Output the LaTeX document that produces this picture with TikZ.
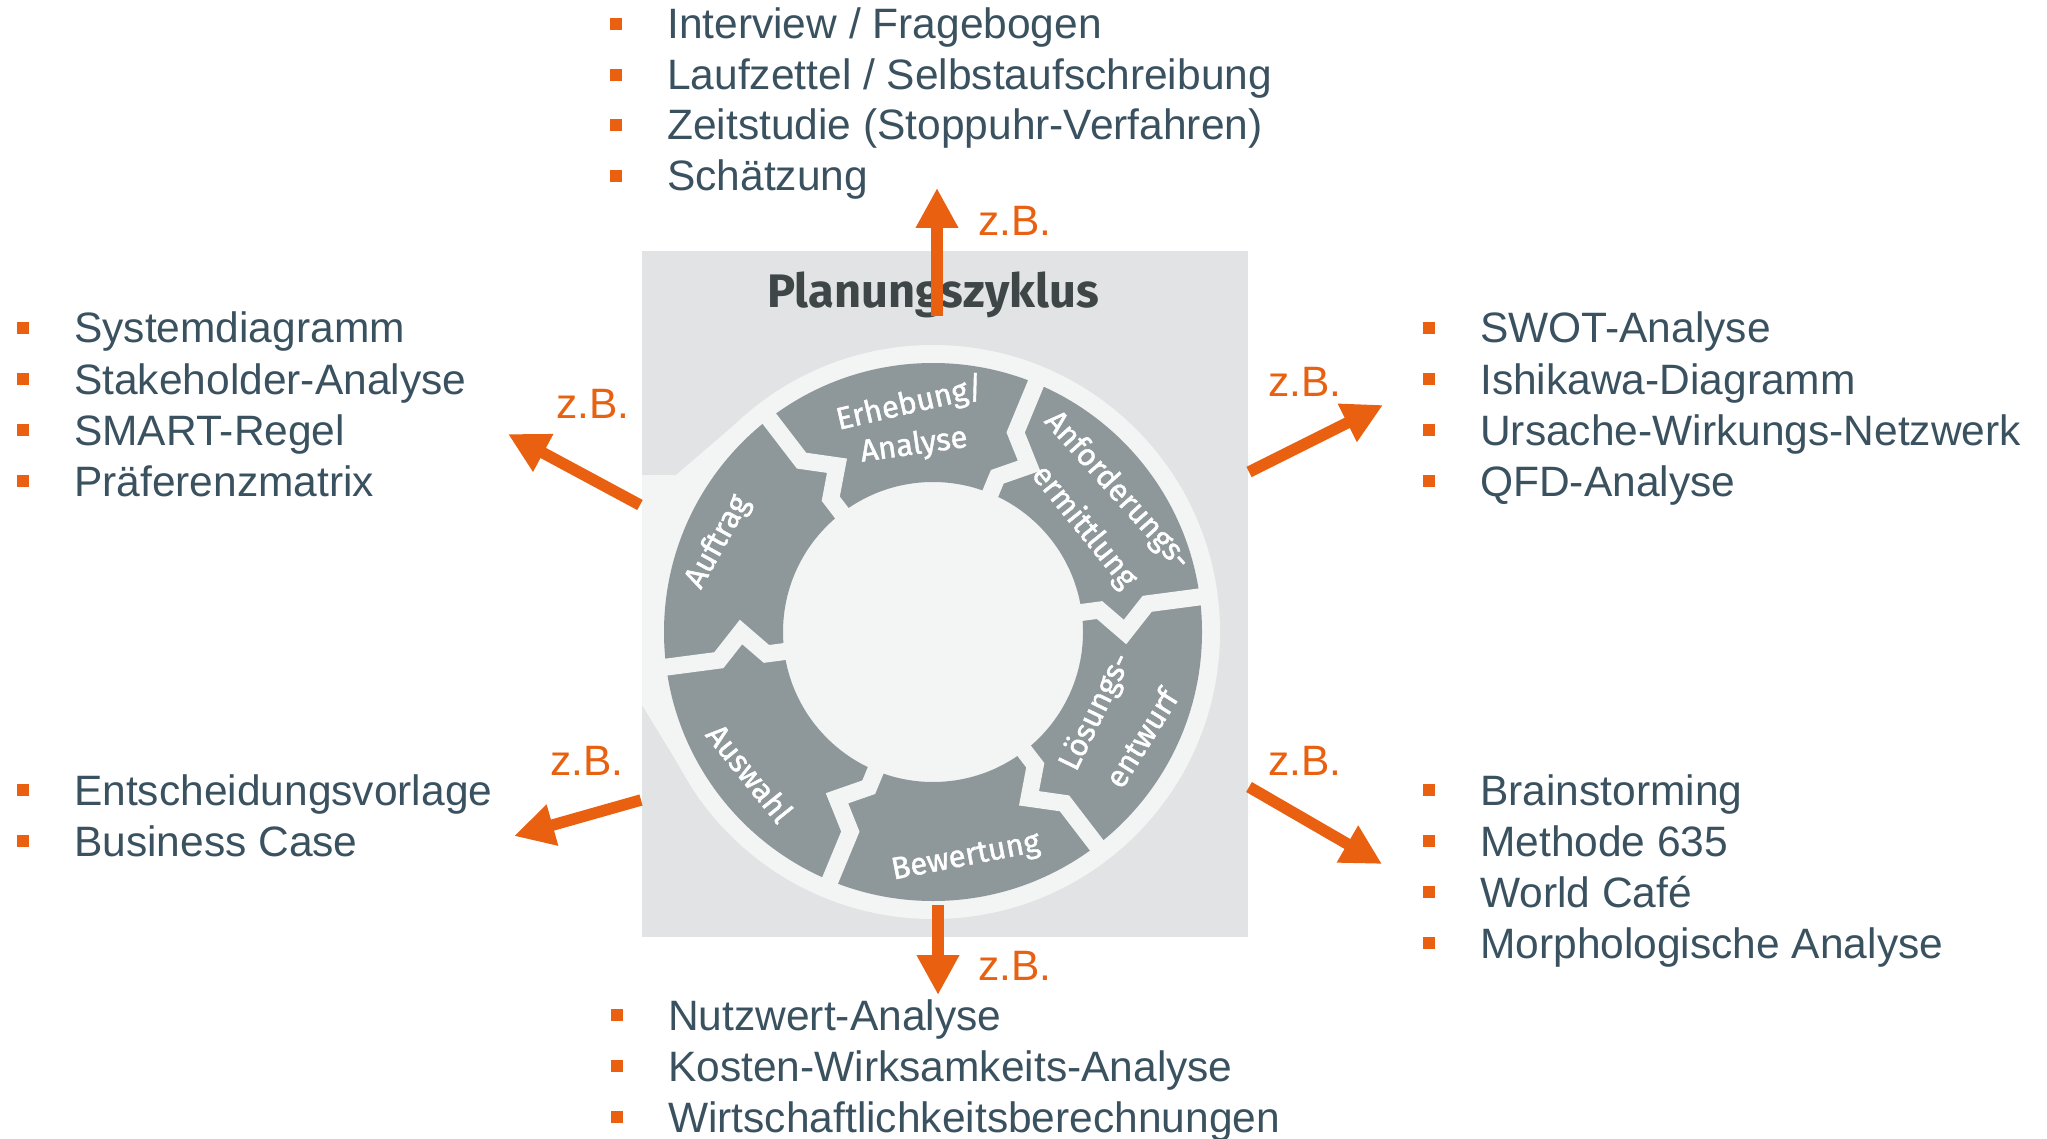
\documentclass[tikz,border=0pt]{standalone}
\usepackage{fontspec}
\setmainfont{Liberation Sans}
\newfontfamily\labfont{Fira Sans}
\newfontfamily\labfontb[FakeBold=1.4]{Fira Sans}
\usetikzlibrary{arrows.meta}
\definecolor{boxgray}{RGB}{225,227,228}
\definecolor{ringlight}{RGB}{243,244,244}
\definecolor{seggray}{RGB}{142,151,153}
\definecolor{titlegray}{RGB}{62,70,72}
\definecolor{txt}{RGB}{58,81,95}
\definecolor{orng}{RGB}{232,96,16}
\tikzset{
  item/.style={anchor=base west, font=\fontsize{42.5}{51}\selectfont, text=txt, inner sep=0pt},
  zb/.style={anchor=base west, font=\fontsize{42.5}{51}\selectfont, text=orng, inner sep=0pt},
  seglab/.style={font=\labfontb\fontsize{31}{34}\selectfont, text=white, inner sep=0pt},
  orarrow/.style={draw=orng, line width=11.5pt, -{Triangle[length=40pt,width=40pt]}},
  gapline/.style={draw=ringlight, line width=17pt, line join=miter}
}
\newcommand\bitem[4]{%
  \fill[orng] ({#1-57},{#2-21}) rectangle ++(12,12);
  \node[item] (#4) at (#1,#2) {#3};}
\begin{document}
\begin{tikzpicture}[x=1pt,y=-1pt]
\useasboundingbox (0,0) rectangle (2047,1139);
\clip (0,0) rectangle (2047,1139);
% box
\fill[boxgray] (642,251) rectangle (1248,937);
% light ring with tail
\fill[ringlight] (933,632) circle (287);
\fill[ringlight] (642,475) -- (676,475) -- (740,420) -- (700,800) -- (642,705) -- cycle;
% segments
\fill[seggray, even odd rule] (933,632) circle (269) (933,632) circle (150);
\foreach \t in {7.5,67.5,127.5,187.5,247.5,307.5}{
  \draw[gapline, shift={(933,632)}] (-\t:135) -- (-\t:168) -- ({-\t+7.5}:192) -- (-\t:216) -- (-\t:285);
}
% title
\node[font=\labfont\bfseries\fontsize{47}{50}\selectfont, text=titlegray, anchor=base, inner sep=0pt] (title) at (933,308) {Planungszyklus};
% segment labels
\node[seglab, rotate=13] (s1a) at (910,404) {Erhebung/};
\node[seglab, rotate=8] (s1b) at (914,446) {Analyse};
\node[seglab, rotate=-48] (s2a) at (1117,491) {Anforderungs-};
\node[seglab, rotate=-51] (s2b) at (1084,527) {ermittlung};
\node[seglab, rotate=64] (s3a) at (1096,712) {Lösungs-};
\node[seglab, rotate=58] (s3b) at (1141,738) {entwurf};
\node[seglab, rotate=11] (s4) at (966,858) {Bewertung};
\node[seglab, rotate=-51] (s5) at (750,773) {Auswahl};
\node[seglab, rotate=61] (s6) at (718,542) {Auftrag};
% arrows
\coordinate (aT0) at (937,316); \coordinate (aT1) at (937,188);
\coordinate (aB0) at (938,905); \coordinate (aB1) at (938,995);
\coordinate (aUL0) at (640,505); \coordinate (aUL1) at (508,434);
\coordinate (aUR0) at (1249,472); \coordinate (aUR1) at (1383,405);
\coordinate (aLL0) at (641,800); \coordinate (aLL1) at (514,836);
\coordinate (aLR0) at (1249,787); \coordinate (aLR1) at (1382,864);
\draw[orarrow] (aT0) -- (aT1);
\draw[orarrow] (aB0) -- (aB1);
\draw[orarrow] (aUL0) -- (aUL1);
\draw[orarrow] (aUR0) -- (aUR1);
\draw[orarrow] (aLL0) -- (aLL1);
\draw[orarrow] (aLR0) -- (aLR1);
% z.B.
\node[zb] (zT) at (978,236) {z.B.};
\node[zb] (zUL) at (556,418) {z.B.};
\node[zb] (zUR) at (1268,396) {z.B.};
\node[zb] (zLL) at (550,775) {z.B.};
\node[zb] (zLR) at (1268,775) {z.B.};
\node[zb] (zB) at (978,980) {z.B.};
% lists
\bitem{667}{39}{Interview / Fragebogen}{t1}
\bitem{667}{90}{Laufzettel / Selbstaufschreibung}{t2}
\bitem{667}{140}{Zeitstudie (Stoppuhr-Verfahren)}{t3}
\bitem{667}{191}{Schätzung}{t4}
\bitem{74}{343}{Systemdiagramm}{l1}
\bitem{74}{394}{Stakeholder-Analyse}{l2}
\bitem{74}{445}{SMART-Regel}{l3}
\bitem{74}{496}{Präferenzmatrix}{l4}
\bitem{1480}{343}{SWOT-Analyse}{r1}
\bitem{1480}{394}{Ishikawa-Diagramm}{r2}
\bitem{1480}{445}{Ursache-Wirkungs-Netzwerk}{r3}
\bitem{1480}{496}{QFD-Analyse}{r4}
\bitem{74}{805}{Entscheidungsvorlage}{ll1}
\bitem{74}{856}{Business Case}{ll2}
\bitem{1480}{805}{Brainstorming}{lr1}
\bitem{1480}{856}{Methode 635}{lr2}
\bitem{1480}{907}{World Café}{lr3}
\bitem{1480}{958}{Morphologische Analyse}{lr4}
\bitem{668}{1030}{Nutzwert-Analyse}{b1}
\bitem{668}{1081}{Kosten-Wirksamkeits-Analyse}{b2}
\bitem{668}{1132}{Wirtschaftlichkeitsberechnungen}{b3}
\end{tikzpicture}
\end{document}
